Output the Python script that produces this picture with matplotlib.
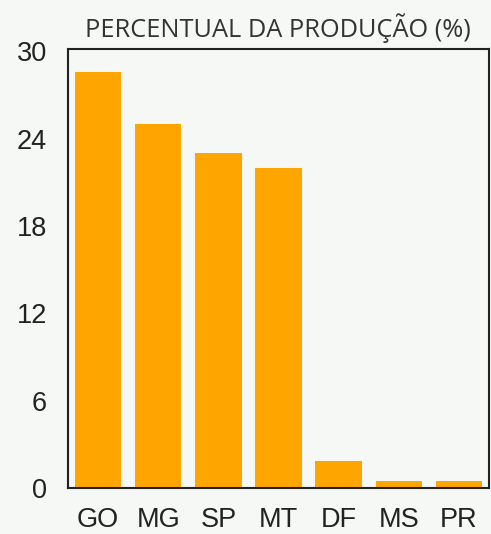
import matplotlib
matplotlib.use("Agg")
import matplotlib.pyplot as plt

categories = ["GO", "MG", "SP", "MT", "DF", "MS", "PR"]
values = [28.6, 25.0, 23.0, 22.0, 1.85, 0.5, 0.5]
yticks = [0, 6, 12, 18, 24, 30]
title = "PERCENTUAL DA PRODUÇÃO (%)"

bg = "#f6f8f5"
fig = plt.figure(figsize=(4.91, 5.34), dpi=100, facecolor=bg)
ax = fig.add_axes([68/491, 1 - 488/534, (489-68)/491, (488-49)/534])
ax.set_facecolor(bg)
x = list(range(len(categories)))
ax.bar(x, values, width=0.77, color="#FFA500")
ax.set_xlim(-0.5, len(categories) - 0.5)
ax.set_ylim(0, 30.15)
ax.set_yticks(yticks)
ax.set_xticks(x)
ax.set_xticklabels(categories)
ax.tick_params(length=0, labelsize=19.5, colors="#222222")
ax.tick_params(axis="x", pad=14)
ax.tick_params(axis="y", pad=15)
for lab in ax.get_xticklabels() + ax.get_yticklabels():
    lab.set_fontfamily("Liberation Sans")
for s in ax.spines.values():
    s.set_linewidth(1.5)
    s.set_color("#222222")
fig.text(278/491, 1 - 28/534, title, ha="center", va="center",
         fontsize=18.3, family="Open Sans", color="#333333")
fig.savefig("out.png", dpi=100, facecolor=bg)
